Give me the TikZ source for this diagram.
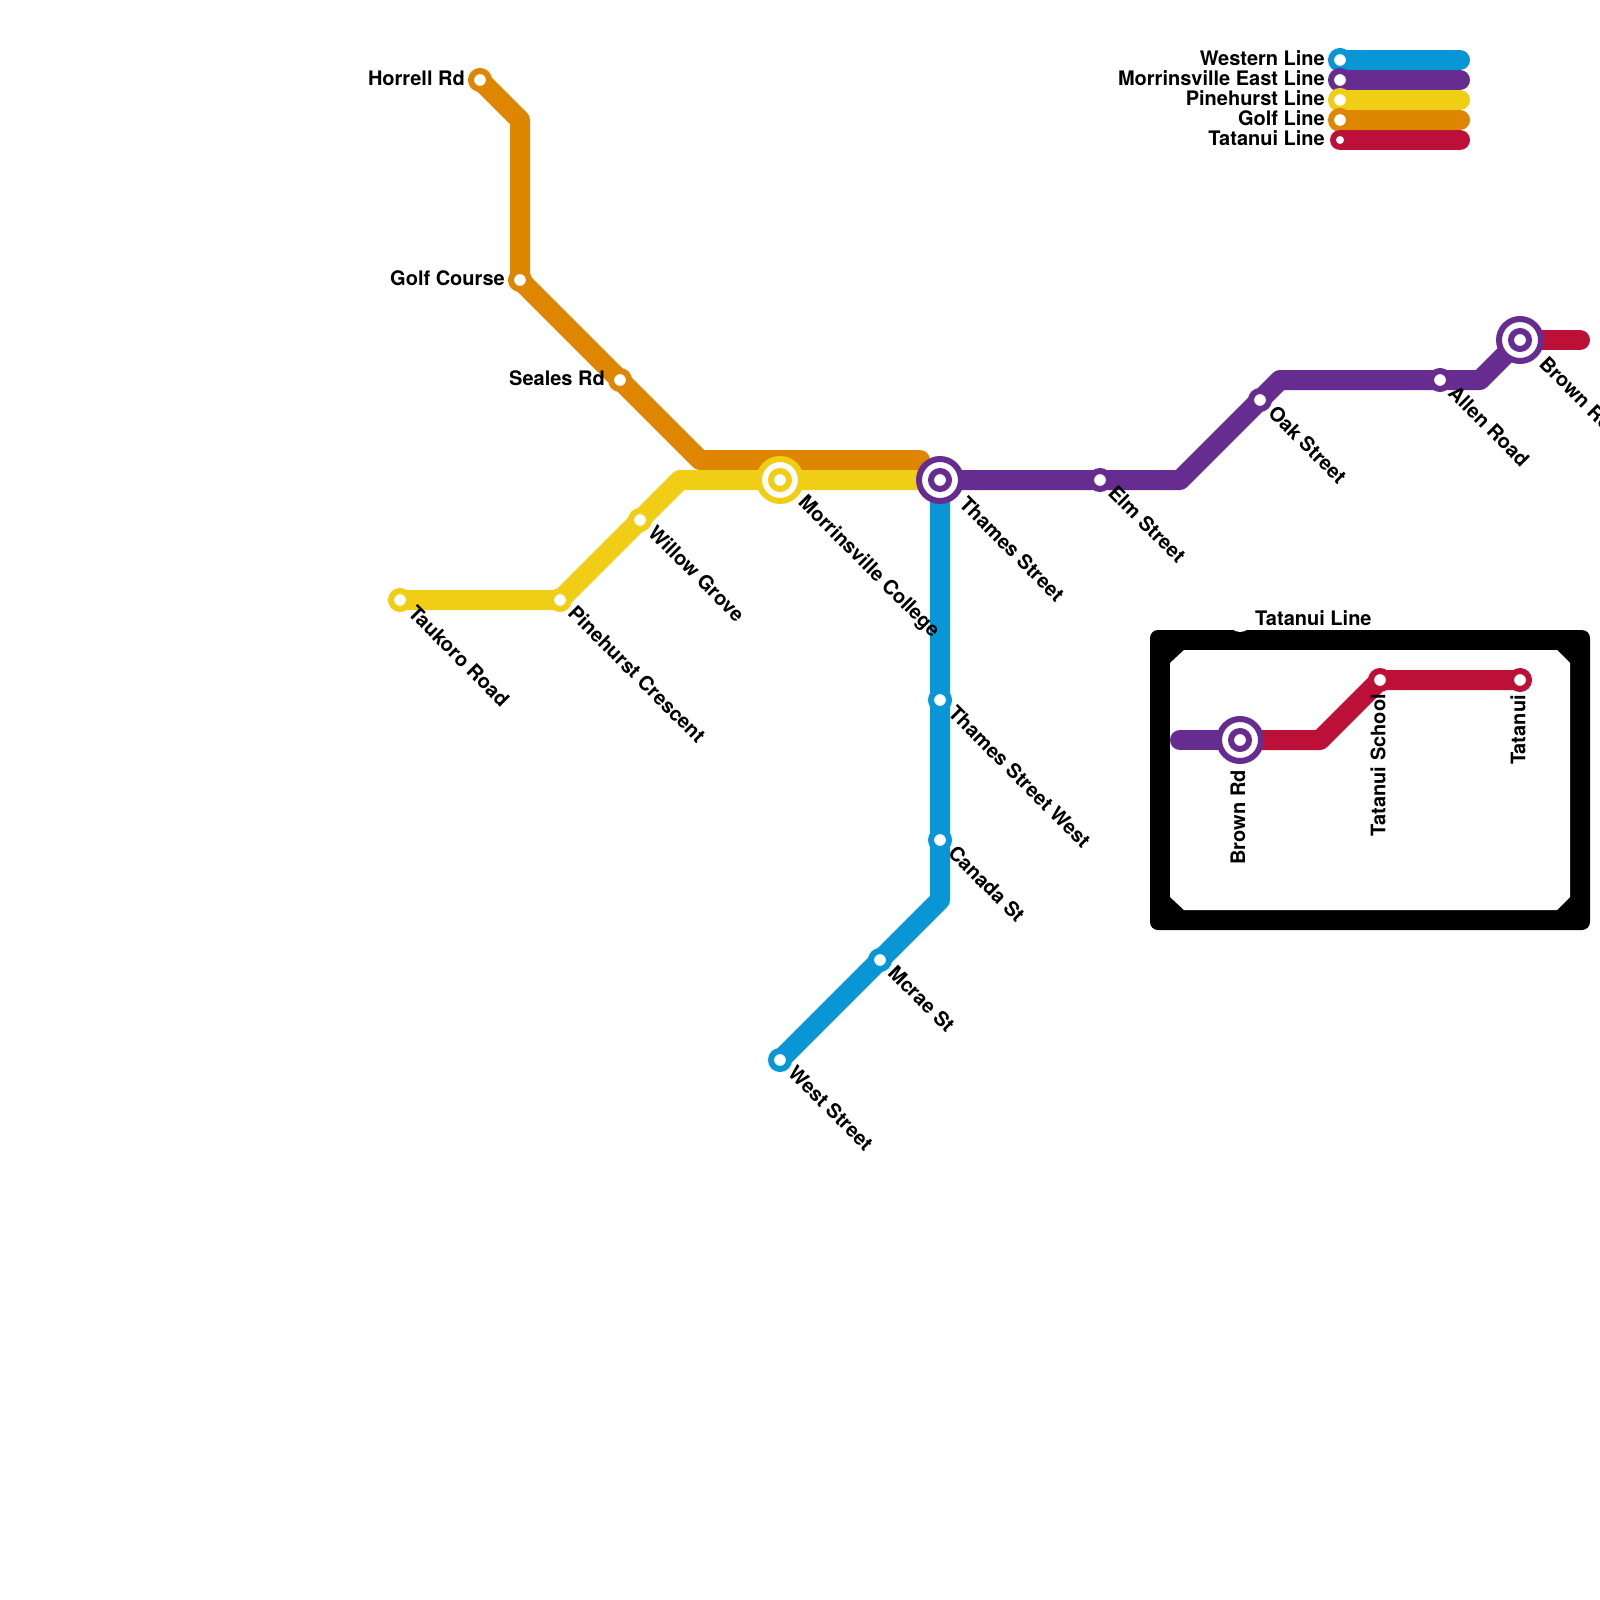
\documentclass[tikz,border=0pt]{standalone}
\usepackage{fontspec}
\setmainfont{TeX Gyre Heros}
\definecolor{westernc}{HTML}{0896D7}
\definecolor{eastc}{HTML}{662C90}
\definecolor{pinec}{HTML}{F0CE15}
\definecolor{golfc}{HTML}{DF8600}
\definecolor{tatc}{HTML}{BD1038}
\begin{document}
\begin{tikzpicture}[
    x=1pt, y=-1pt,
    route/.style={line width=20pt, line cap=round, line join=round},
    stn/.style={circle, fill=white, draw=#1, line width=6pt, minimum size=18pt, inner sep=0pt, outer sep=0pt},
    hub/.style={circle, fill=white, draw=#1, line width=6pt, minimum size=42pt, inner sep=0pt, outer sep=0pt},
    lbl/.style={font=\fontsize{20}{24}\selectfont\bfseries, inner sep=0pt},
    dnlbl/.style={lbl, rotate=-45, anchor=west},
    uplbl/.style={lbl, rotate=90, anchor=east},
    leftlbl/.style={lbl, anchor=east},
  ]
    \useasboundingbox (0,0) rectangle (1600,1600);

    % inset frame
    \fill[black, rounded corners=8pt] (1150,630) rectangle (1590,930);
    \fill[white] (1184,650) -- (1557,650) -- (1570,663) -- (1570,897) -- (1557,910)
      -- (1184,910) -- (1170,897) -- (1170,663) -- cycle;
    \fill[white] (1240,620) circle (12pt);

    % stations (main map)
    \coordinate (horrell) at (480, 80);
    \coordinate (golfcourse) at (520, 280);
    \coordinate (seales) at (620, 380);
    \coordinate (taukoro) at (400, 600);
    \coordinate (pinecres) at (560, 600);
    \coordinate (willow) at (640, 520);
    \coordinate (morrin) at (780, 480);
    \coordinate (thames) at (940, 480);
    \coordinate (elm) at (1100, 480);
    \coordinate (oak) at (1260, 400);
    \coordinate (allen) at (1440, 380);
    \coordinate (brown) at (1520, 340);
    \coordinate (thameswest) at (940, 700);
    \coordinate (canada) at (940, 840);
    \coordinate (mcrae) at (880, 960);
    \coordinate (weststreet) at (780, 1060);

    % bends
    \coordinate (golfa) at (520, 120);
    \coordinate (golfb) at (700, 460);
    \coordinate (golfc) at (920, 460);
    \coordinate (pinea) at (680, 480);
    \coordinate (easta) at (1180, 480);
    \coordinate (eastb) at (1280, 380);
    \coordinate (eastc) at (1480, 380);
    \coordinate (westa) at (940, 900);
    \coordinate (browntail) at (1580, 340);

    % lines
    \draw[route, golfc] (horrell) -- (golfa) -- (golfcourse) -- (seales) -- (golfb) -- (golfc);
    \draw[route, pinec] (taukoro) -- (pinecres) -- (willow) -- (pinea) -- (morrin) -- (thames);
    \draw[route, westernc] (thames) -- (thameswest) -- (canada) -- (westa) -- (mcrae) -- (weststreet);
    \draw[route, tatc] (brown) -- (browntail);
    \draw[route, eastc] (thames) -- (elm) -- (easta) -- (oak) -- (eastb) -- (allen) -- (eastc) -- (brown);

    \node[stn=golfc] (horrellstn) at (horrell) {};
    \node[stn=golfc] (golfcoursestn) at (golfcourse) {};
    \node[stn=golfc] (sealesstn) at (seales) {};
    \node[stn=pinec] (taukorostn) at (taukoro) {};
    \node[stn=pinec] (pinecresstn) at (pinecres) {};
    \node[stn=pinec] (willowstn) at (willow) {};
    \node[hub=pinec] (morrinhub) at (morrin) {};
    \node[stn=pinec] (morrinstn) at (morrin) {};
    \node[stn=westernc] (thameswestn) at (thameswest) {};
    \node[stn=westernc] (canadastn) at (canada) {};
    \node[stn=westernc] (mcraestn) at (mcrae) {};
    \node[stn=westernc] (weststn) at (weststreet) {};
    \node[hub=eastc] (thameshub) at (thames) {};
    \node[stn=eastc] (thamesstn) at (thames) {};
    \node[stn=eastc] (elmstn) at (elm) {};
    \node[stn=eastc] (oakstn) at (oak) {};
    \node[stn=eastc] (allenstn) at (allen) {};
    \node[hub=eastc] (brownhub) at (brown) {};
    \node[stn=eastc] (brownstn) at (brown) {};

    % labels
    \node[leftlbl] (horrelltxt) at (465, 78) {Horrell Rd};
    \node[leftlbl] (golfcoursetxt) at (505, 278) {Golf Course};
    \node[leftlbl] (sealestxt) at (605, 378) {Seales Rd};
    \node[dnlbl] (taukorotxt) at (412, 609) {Taukoro Road};
    \node[dnlbl] (pinecrestxt) at (572, 609) {Pinehurst Crescent};
    \node[dnlbl] (willowtxt) at (652, 529) {Willow Grove};
    \node[dnlbl] (morrintxt) at (801, 500) {Morrinsville College};
    \node[dnlbl] (thamestxt) at (963, 500) {Thames Street};
    \node[dnlbl] (elmtxt) at (1112, 489) {Elm Street};
    \node[dnlbl] (oaktxt) at (1272, 409) {Oak Street};
    \node[dnlbl] (allentxt) at (1452, 389) {Allen Road};
    \node[dnlbl] (browntxt) at (1543, 360) {Brown Road};
    \node[dnlbl] (thameswesttxt) at (952, 709) {Thames Street West};
    \node[dnlbl] (canadatxt) at (952, 849) {Canada St};
    \node[dnlbl] (mcraetxt) at (892, 969) {Mcrae St};
    \node[dnlbl] (weststreettxt) at (792, 1069) {West Street};

    % inset
    \coordinate (inbrown) at (1240, 740);
    \coordinate (intail) at (1180, 740);
    \coordinate (inbend) at (1320, 740);
    \coordinate (inschool) at (1380, 680);
    \coordinate (intatanui) at (1520, 680);
    \draw[route, eastc] (intail) -- (inbrown);
    \draw[route, tatc] (inbrown) -- (inbend) -- (inschool) -- (intatanui);
    \node[hub=eastc] (inbrownhub) at (inbrown) {};
    \node[stn=eastc] (inbrownstn) at (inbrown) {};
    \node[stn=tatc] (inschoolstn) at (inschool) {};
    \node[stn=tatc] (intatanuistn) at (intatanui) {};
    \node[lbl, anchor=west] (intitle) at (1255, 618) {Tatanui Line};
    \node[uplbl] (inbrowntxt) at (1238, 770) {Brown Rd};
    \node[uplbl] (inschooltxt) at (1378, 694) {Tatanui School};
    \node[uplbl] (intatanuitxt) at (1518, 695) {Tatanui};

    % key
    \coordinate (keyaend) at (1460, 60);
    \coordinate (keybend) at (1460, 80);
    \coordinate (keycend) at (1460, 100);
    \coordinate (keydend) at (1460, 120);
    \coordinate (keyeend) at (1460, 140);
    \coordinate (keya) at (1340, 60);
    \coordinate (keyb) at (1340, 80);
    \coordinate (keyc) at (1340, 100);
    \coordinate (keyd) at (1340, 120);
    \coordinate (keye) at (1340, 140);
    \draw[route, westernc] (keya) -- (keyaend);
    \node[stn=westernc] (keyastn) at (keya) {};
    \draw[route, eastc] (keyb) -- (keybend);
    \node[stn=eastc] (keybstn) at (keyb) {};
    \draw[route, pinec] (keyc) -- (keycend);
    \node[stn=pinec] (keycstn) at (keyc) {};
    \draw[route, golfc] (keyd) -- (keydend);
    \node[stn=golfc] (keydstn) at (keyd) {};
    \draw[route, tatc] (keye) -- (keyeend);
    \node[circle, fill=white, minimum size=8pt, inner sep=0pt] (keyestn) at (keye) {};
    \node[leftlbl] (keyatxt) at (1325, 58) {Western Line};
    \node[leftlbl] (keybtxt) at (1325, 78) {Morrinsville East Line};
    \node[leftlbl] (keyctxt) at (1325, 98) {Pinehurst Line};
    \node[leftlbl] (keydtxt) at (1325, 118) {Golf Line};
    \node[leftlbl] (keyetxt) at (1325, 138) {Tatanui Line};
  \end{tikzpicture}
\end{document}
